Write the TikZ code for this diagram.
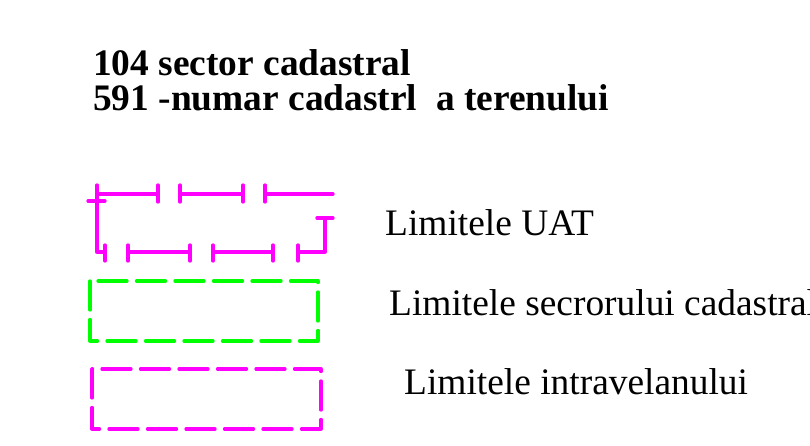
\documentclass[tikz,border=0pt]{standalone}
\usepackage{fontspec}
\setmainfont{Liberation Serif}
\definecolor{roz}{RGB}{255,0,255}
\definecolor{verde}{RGB}{0,255,0}
\begin{document}
\begin{tikzpicture}[x=1pt, y=-1pt, line join=round, line cap=round,
  txt/.style={anchor=base west, inner sep=0pt, font=\fontsize{37.4}{37.4}\selectfont},
  titlu/.style={txt, font=\fontsize{37.4}{37.4}\selectfont\bfseries},
  uat/.style={roz, line width=3.3pt},
  limita/.style={line width=3.3pt, dash pattern=on 29pt off 9.5pt}]
\useasboundingbox (0,0) rectangle (810,446);
% Linia de sus si linia de jos a simbolului UAT
\def\ysus{194}
\def\yjos{252}
% Titlu
\node[titlu] (sector) at (93,76) {104 sector cadastral};
\node[titlu] (numar) at (93,111) {591 -numar cadastrl\ \ a terenului};
% Simbol UAT: segmente de sus
\foreach \a/\b in {97/158, 180/243}{
  \draw[uat] (\a,\ysus) -- (\b,\ysus);
  \draw[uat] (\a,\ysus-9) -- (\a,\ysus+8);
  \draw[uat] (\b,\ysus-9) -- (\b,\ysus+8);
}
\draw[uat] (265,\ysus-9) -- (265,\ysus+8);
\draw[uat] (265,\ysus) -- (333,\ysus);
% Simbol UAT: latura din stanga
\draw[uat] (88,201) -- (105,201);
\draw[uat] (97,\ysus) -- (97,\yjos) -- (105,\yjos);
\draw[uat] (105,\yjos-7) -- (105,\yjos+9);
% Simbol UAT: segmente de jos
\foreach \a/\b in {128/190, 213/273}{
  \draw[uat] (\a,\yjos) -- (\b,\yjos);
  \draw[uat] (\a,\yjos-7) -- (\a,\yjos+9);
  \draw[uat] (\b,\yjos-7) -- (\b,\yjos+9);
}
\draw[uat] (298,\yjos-7) -- (298,\yjos+9);
\draw[uat] (298,\yjos) -- (325,\yjos) -- (325,218);
\draw[uat] (317,218) -- (333,218);
% Dreptunghiuri punctate
\draw[limita, verde] (90,281) rectangle (318,341);
\draw[limita, roz] (92,369) rectangle (321,429);
% Legenda
\node[txt] (uattxt) at (385,235) {Limitele UAT};
\node[txt] (sectortxt) at (389,315) {Limitele secrorului cadastral};
\node[txt] (intravilan) at (404,394) {Limitele intravelanului};
\end{tikzpicture}
\end{document}
